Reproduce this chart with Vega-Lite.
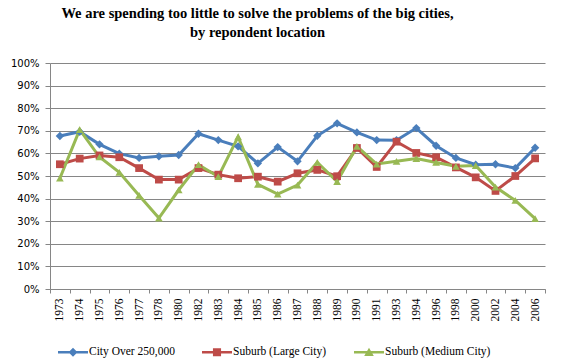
{
  "$schema": "https://vega.github.io/schema/vega-lite/v6.json",
  "width": 495,
  "height": 226,
  "autosize": {"type": "none"},
  "padding": {"left": 50, "top": 63, "right": 16, "bottom": 75},
  "background": "white",
  "title": {
    "text": ["We are spending too little to solve the problems of  the big cities,", "by repondent location"],
    "font": "'Liberation Serif', 'DejaVu Serif', serif",
    "fontSize": 14.5,
    "fontWeight": "bold",
    "color": "#000000",
    "anchor": "middle",
    "dx": -40,
    "offset": 18,
    "lineHeight": 18.5
  },
  "data": {
    "values": [
      {"year": "1973", "series": "City Over 250,000", "value": 67.7},
      {"year": "1974", "series": "City Over 250,000", "value": 69.6},
      {"year": "1975", "series": "City Over 250,000", "value": 64.0},
      {"year": "1976", "series": "City Over 250,000", "value": 59.9},
      {"year": "1977", "series": "City Over 250,000", "value": 58.0},
      {"year": "1978", "series": "City Over 250,000", "value": 58.7},
      {"year": "1980", "series": "City Over 250,000", "value": 59.3},
      {"year": "1982", "series": "City Over 250,000", "value": 68.7},
      {"year": "1983", "series": "City Over 250,000", "value": 65.9},
      {"year": "1984", "series": "City Over 250,000", "value": 63.1},
      {"year": "1985", "series": "City Over 250,000", "value": 55.6},
      {"year": "1986", "series": "City Over 250,000", "value": 62.8},
      {"year": "1987", "series": "City Over 250,000", "value": 56.5},
      {"year": "1988", "series": "City Over 250,000", "value": 67.8},
      {"year": "1989", "series": "City Over 250,000", "value": 73.3},
      {"year": "1990", "series": "City Over 250,000", "value": 69.3},
      {"year": "1991", "series": "City Over 250,000", "value": 65.9},
      {"year": "1993", "series": "City Over 250,000", "value": 65.8},
      {"year": "1994", "series": "City Over 250,000", "value": 71.2},
      {"year": "1996", "series": "City Over 250,000", "value": 63.4},
      {"year": "1998", "series": "City Over 250,000", "value": 58.0},
      {"year": "2000", "series": "City Over 250,000", "value": 55.0},
      {"year": "2002", "series": "City Over 250,000", "value": 55.2},
      {"year": "2004", "series": "City Over 250,000", "value": 53.5},
      {"year": "2006", "series": "City Over 250,000", "value": 62.5},
      {"year": "1973", "series": "Suburb (Large City)", "value": 55.2},
      {"year": "1974", "series": "Suburb (Large City)", "value": 57.7},
      {"year": "1975", "series": "Suburb (Large City)", "value": 59.1},
      {"year": "1976", "series": "Suburb (Large City)", "value": 58.3},
      {"year": "1977", "series": "Suburb (Large City)", "value": 53.5},
      {"year": "1978", "series": "Suburb (Large City)", "value": 48.4},
      {"year": "1980", "series": "Suburb (Large City)", "value": 48.4},
      {"year": "1982", "series": "Suburb (Large City)", "value": 53.5},
      {"year": "1983", "series": "Suburb (Large City)", "value": 50.6},
      {"year": "1984", "series": "Suburb (Large City)", "value": 49.0},
      {"year": "1985", "series": "Suburb (Large City)", "value": 49.7},
      {"year": "1986", "series": "Suburb (Large City)", "value": 47.5},
      {"year": "1987", "series": "Suburb (Large City)", "value": 51.2},
      {"year": "1988", "series": "Suburb (Large City)", "value": 52.7},
      {"year": "1989", "series": "Suburb (Large City)", "value": 49.9},
      {"year": "1990", "series": "Suburb (Large City)", "value": 62.4},
      {"year": "1991", "series": "Suburb (Large City)", "value": 54.0},
      {"year": "1993", "series": "Suburb (Large City)", "value": 65.2},
      {"year": "1994", "series": "Suburb (Large City)", "value": 60.2},
      {"year": "1996", "series": "Suburb (Large City)", "value": 58.3},
      {"year": "1998", "series": "Suburb (Large City)", "value": 53.8},
      {"year": "2000", "series": "Suburb (Large City)", "value": 49.4},
      {"year": "2002", "series": "Suburb (Large City)", "value": 43.4},
      {"year": "2004", "series": "Suburb (Large City)", "value": 50.0},
      {"year": "2006", "series": "Suburb (Large City)", "value": 57.8},
      {"year": "1973", "series": "Suburb (Medium City)", "value": 49.0},
      {"year": "1974", "series": "Suburb (Medium City)", "value": 70.5},
      {"year": "1975", "series": "Suburb (Medium City)", "value": 58.4},
      {"year": "1976", "series": "Suburb (Medium City)", "value": 51.6},
      {"year": "1977", "series": "Suburb (Medium City)", "value": 41.4},
      {"year": "1978", "series": "Suburb (Medium City)", "value": 31.4},
      {"year": "1980", "series": "Suburb (Medium City)", "value": 43.8},
      {"year": "1982", "series": "Suburb (Medium City)", "value": 55.0},
      {"year": "1983", "series": "Suburb (Medium City)", "value": 49.7},
      {"year": "1984", "series": "Suburb (Medium City)", "value": 67.3},
      {"year": "1985", "series": "Suburb (Medium City)", "value": 46.3},
      {"year": "1986", "series": "Suburb (Medium City)", "value": 42.0},
      {"year": "1987", "series": "Suburb (Medium City)", "value": 46.0},
      {"year": "1988", "series": "Suburb (Medium City)", "value": 56.0},
      {"year": "1989", "series": "Suburb (Medium City)", "value": 47.5},
      {"year": "1990", "series": "Suburb (Medium City)", "value": 63.1},
      {"year": "1991", "series": "Suburb (Medium City)", "value": 55.3},
      {"year": "1993", "series": "Suburb (Medium City)", "value": 56.5},
      {"year": "1994", "series": "Suburb (Medium City)", "value": 57.7},
      {"year": "1996", "series": "Suburb (Medium City)", "value": 56.0},
      {"year": "1998", "series": "Suburb (Medium City)", "value": 54.3},
      {"year": "2000", "series": "Suburb (Medium City)", "value": 54.6},
      {"year": "2002", "series": "Suburb (Medium City)", "value": 45.1},
      {"year": "2004", "series": "Suburb (Medium City)", "value": 39.2},
      {"year": "2006", "series": "Suburb (Medium City)", "value": 31.1}
    ]
  },
  "encoding": {
    "x": {
      "field": "year",
      "type": "ordinal",
      "bandPosition": 0.5,
      "scale": {"type": "band", "paddingInner": 0, "paddingOuter": 0},
      "axis": {
        "title": null,
        "labelAngle": -90,
        "labelFont": "'Liberation Serif', 'DejaVu Serif', serif",
        "labelFontSize": 11.5,
        "labelColor": "#000000",
        "labelPadding": 5,
        "tickBand": "extent",
        "tickSize": 4,
        "tickColor": "#868686",
        "domainColor": "#868686",
        "grid": false
      }
    },
    "y": {
      "field": "value",
      "type": "quantitative",
      "scale": {"domain": [0, 100], "nice": false},
      "axis": {
        "title": null,
        "values": [0, 10, 20, 30, 40, 50, 60, 70, 80, 90, 100],
        "labelExpr": "datum.value + '%'",
        "labelFont": "DejaVu Sans",
        "labelFontSize": 10,
        "labelColor": "#000000",
        "labelPadding": 6,
        "tickSize": 5,
        "tickColor": "#868686",
        "domainColor": "#868686",
        "gridColor": "#868686",
        "gridWidth": 1
      }
    },
    "color": {
      "field": "series",
      "type": "nominal",
      "scale": {
        "domain": ["City Over 250,000", "Suburb (Large City)", "Suburb (Medium City)"],
        "range": ["#4A7EBB", "#BE4B48", "#98B954"]
      },
      "legend": {
        "title": null,
        "orient": "none",
        "legendX": 8,
        "legendY": 274,
        "direction": "horizontal",
        "symbolSize": 900,
        "symbolStrokeWidth": 0,
        "labelFont": "'Liberation Serif', 'DejaVu Serif', serif",
        "labelFontSize": 11.5,
        "labelColor": "#000000",
        "labelOffset": 1,
        "columnPadding": 27,
        "encode": {
          "symbols": {
            "update": {
              "shape": {"signal": "datum.value == 'City Over 250,000' ? 'M-1,-0.09H1V0.09H-1Z M0,-0.3L0.3,0L0,0.3L-0.3,0Z' : datum.value == 'Suburb (Large City)' ? 'M-1,-0.09H1V0.09H-1Z M-0.27,-0.27H0.27V0.27H-0.27Z' : 'M-1,-0.09H1V0.09H-1Z M0,-0.3L0.32,0.25H-0.32Z'"},
              "fill": {"scale": "color", "field": "value"},
              "strokeWidth": {"value": 0},
              "opacity": {"value": 1}
            }
          }
        }
      }
    }
  },
  "layer": [
    {
      "mark": {"type": "line", "strokeWidth": 3}
    },
    {
      "transform": [{"filter": "datum.series == 'City Over 250,000'"}],
      "mark": {"type": "point", "shape": "diamond", "filled": true, "opacity": 1, "size": 70}
    },
    {
      "transform": [{"filter": "datum.series == 'Suburb (Large City)'"}],
      "mark": {"type": "point", "shape": "square", "filled": true, "opacity": 1, "size": 60}
    },
    {
      "transform": [{"filter": "datum.series == 'Suburb (Medium City)'"}],
      "mark": {"type": "point", "shape": "triangle-up", "filled": true, "opacity": 1, "size": 60}
    }
  ],
  "config": {
    "view": {"stroke": null}
  }
}
